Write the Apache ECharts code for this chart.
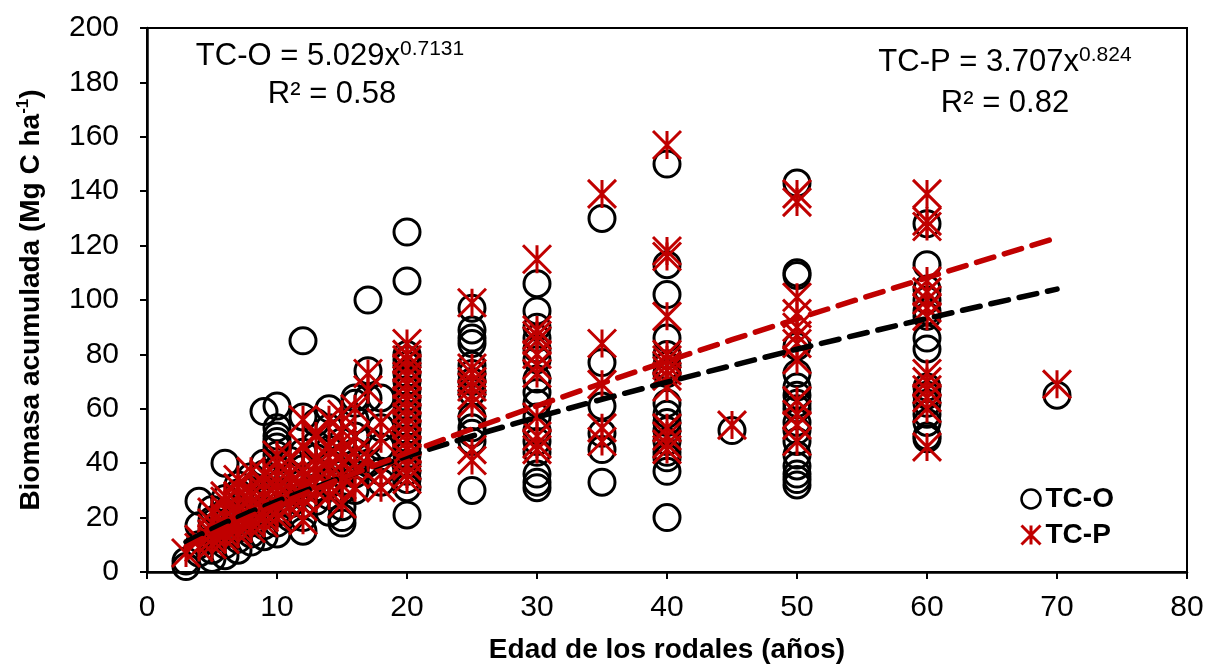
<!DOCTYPE html>
<html>
<head>
<meta charset="utf-8">
<script src="https://cdn.jsdelivr.net/npm/echarts@6/dist/echarts.min.js"></script>
<style>
html,body{margin:0;padding:0;background:#fff;}
#chart{width:1210px;height:669px;}
</style>
</head>
<body>
<div id="chart"></div>
<script>
// Stand ages (years) for which values were read
const ages = [3,4,5,6,7,8,9,10,11,12,13,14,15,16,17,18,20,25,30,35,40,45,50,60,70];

// TC-O biomass (Mg C ha-1), grouped by age (same order as ages)
const bioTCO = [
  [2, 4],
  [26, 17, 10, 7],
  [5, 8, 12, 15, 19, 23],
  [40, 6, 10, 14, 18, 22, 27],
  [8, 12, 16, 20, 24, 29, 32],
  [11, 14, 18, 22, 26, 30, 35],
  [59, 40, 13, 17, 21, 26, 30, 36],
  [61, 53, 50, 48, 46, 43, 14, 18, 22, 26, 30, 34, 38],
  [20, 25, 30, 35, 41],
  [85, 57, 15, 20, 25, 31, 38, 44],
  [55, 26, 31, 36, 42, 47],
  [60, 53, 22, 28, 33, 39, 45],
  [18, 20, 24, 30, 36, 42, 48],
  [64, 62, 30, 36, 44, 50, 56],
  [100, 74, 64, 40, 48],
  [64, 53, 46, 37, 33],
  [125, 107, 80, 78, 76, 73, 70, 67, 64, 61, 58, 55, 52, 49, 46, 43, 40, 37, 34, 31, 21],
  [97, 89, 86, 84, 76, 73, 70, 66, 57, 53, 51, 48, 30],
  [106, 96, 90, 86, 82, 78, 71, 66, 62, 57, 52, 48, 44, 36, 33, 31],
  [130, 77, 61, 51, 45, 33],
  [150, 113, 102, 86, 80, 76, 73, 62, 58, 55, 52, 48, 44, 42, 37, 20],
  [52],
  [143, 110, 109, 83, 73, 68, 65, 62, 60, 55, 52, 48, 43, 39, 36, 34, 32],
  [128, 113, 104, 100, 96, 94, 86, 82, 68, 65, 62, 58, 55, 50, 49],
  [65]
];

// TC-P biomass (Mg C ha-1), grouped by age (same order as ages)
const bioTCP = [
  [7],
  [12, 9],
  [10, 12, 14, 16, 18, 22],
  [12, 14, 16, 18, 20, 23, 26, 28],
  [14, 16, 18, 20, 22, 25, 28, 31, 34],
  [16, 18, 20, 23, 25, 28, 30, 37],
  [18, 20, 22, 25, 27, 30, 33, 36],
  [20, 22, 25, 28, 30, 33, 35, 40, 43],
  [24, 27, 30, 33, 36, 42],
  [56, 46, 37, 19, 24, 27, 30, 32, 35],
  [30, 33, 36, 39, 42, 50],
  [56, 46, 42, 38, 32, 28],
  [58, 52, 48, 44, 40, 35, 32, 25],
  [60, 50, 44, 40, 36, 31],
  [73, 67, 42],
  [55, 49, 36, 31],
  [84, 80, 78, 75, 72, 69, 66, 63, 60, 57, 54, 51, 48, 45, 42, 39, 36, 34],
  [99, 75, 73, 70, 68, 65, 62, 45, 41],
  [115, 89, 87, 85, 80, 76, 73, 57, 50, 47, 45],
  [139, 84, 69, 53, 48],
  [157, 118, 116, 94, 80, 78, 76, 74, 72, 68, 53, 50, 47, 45],
  [54],
  [139, 136, 101, 95, 90, 87, 84, 78, 63, 58, 54, 48],
  [139, 129, 127, 107, 103, 100, 97, 94, 73, 70, 67, 64, 60, 46],
  [69]
];

// Trend lines
const trendAges = [3, 4, 5, 6, 8, 10, 12, 15, 20, 25, 30, 35, 40, 45, 50, 55, 60, 65, 70];
const trendTCO  = [11.0, 13.5, 15.8, 18.1, 22.2, 26.0, 29.6, 34.7, 42.6, 50.0, 56.9, 63.5, 69.8, 75.9, 81.9, 87.6, 93.2, 98.7, 104.0];
const trendTCP  = [9.2, 11.7, 14.0, 16.3, 20.6, 24.7, 28.6, 34.5, 43.8, 52.6, 61.1, 69.4, 77.5, 85.4, 93.1, 100.7, 108.2, 115.6, 122.9];

const seriesNames = ['TC-O', 'TC-P'];
const eqTCO = ['TC-O = 5.029x', '0.7131', 'R² = 0.58'];
const eqTCP = ['TC-P = 3.707x', '0.824', 'R² = 0.82'];

function pairs(ageList, groups) {
  const out = [];
  groups.forEach((g, i) => g.forEach(v => out.push([ageList[i], v])));
  return out;
}
function linePairs(xs, ys) { return xs.map((x, i) => [x, ys[i]]); }

const FONT = 'Liberation Sans, Arial, sans-serif';
const RED = '#C00000';
const STAR = 'path://M0,0L20,20M20,0L0,20M10,0L10,20';

const chart = echarts.init(document.getElementById('chart'), null, {renderer: 'canvas'});
chart.setOption({
  animation: false,
  backgroundColor: '#fff',
  grid: {left: 147, right: 23, top: 28, bottom: 97, show: true, borderColor: '#000', borderWidth: 2, backgroundColor: 'transparent'},
  xAxis: {
    type: 'value', min: 0, max: 80, interval: 10,
    name: 'Edad de los rodales (años)', nameLocation: 'middle', nameGap: 64,
    nameTextStyle: {fontFamily: FONT, fontSize: 28, fontWeight: 'bold', color: '#000'},
    axisLine: {show: true, lineStyle: {color: '#000', width: 2.5}},
    axisTick: {show: true, length: 7, lineStyle: {color: '#000', width: 2}},
    axisLabel: {fontFamily: FONT, fontSize: 30, color: '#000', margin: 21},
    splitLine: {show: false}
  },
  yAxis: {
    type: 'value', min: 0, max: 200, interval: 20,
    name: '{b|Biomasa acumulada (Mg C ha}{s|-1}{b|)}', nameLocation: 'middle', nameGap: 100,
    nameTextStyle: {
      fontFamily: FONT, color: '#000',
      rich: {
        b: {fontFamily: FONT, fontSize: 28, fontWeight: 'bold', color: '#000', lineHeight: 32},
        s: {fontFamily: FONT, fontSize: 17, fontWeight: 'bold', color: '#000', verticalAlign: 'top', lineHeight: 20}
      }
    },
    axisLine: {show: true, lineStyle: {color: '#000', width: 2.5}},
    axisTick: {show: true, length: 7, lineStyle: {color: '#000', width: 2}},
    axisLabel: {fontFamily: FONT, fontSize: 30, color: '#000', margin: 28},
    splitLine: {show: false}
  },
  legend: {
    orient: 'vertical', left: 1020, top: 485, padding: 0, itemGap: 8,
    itemWidth: 19, itemHeight: 19,
    textStyle: {fontFamily: FONT, fontSize: 28, fontWeight: 'bold', color: '#000'},
    data: [
      {name: seriesNames[0], icon: 'circle', itemStyle: {color: 'rgba(0,0,0,0)', borderColor: '#000', borderWidth: 2.5}},
      {name: seriesNames[1], icon: STAR, itemStyle: {color: 'rgba(0,0,0,0)', borderColor: RED, borderWidth: 3}}
    ]
  },
  graphic: [
    {type: 'text', x: 330, y: 56, z: 100, style: {
      text: '{a|' + eqTCO[0] + '}{s|' + eqTCO[1] + '}', align: 'center', verticalAlign: 'middle',
      rich: {a: {fontFamily: FONT, fontSize: 31, fill: '#000', lineHeight: 34}, s: {fontFamily: FONT, fontSize: 21, fill: '#000', verticalAlign: 'top', lineHeight: 24}}
    }},
    {type: 'text', x: 332, y: 94, z: 100, style: {text: eqTCO[2], align: 'center', verticalAlign: 'middle', font: '31px ' + FONT, fill: '#000'}},
    {type: 'text', x: 1005, y: 62, z: 100, style: {
      text: '{a|' + eqTCP[0] + '}{s|' + eqTCP[1] + '}', align: 'center', verticalAlign: 'middle',
      rich: {a: {fontFamily: FONT, fontSize: 31, fill: '#000', lineHeight: 34}, s: {fontFamily: FONT, fontSize: 21, fill: '#000', verticalAlign: 'top', lineHeight: 24}}
    }},
    {type: 'text', x: 1005, y: 103, z: 100, style: {text: eqTCP[2], align: 'center', verticalAlign: 'middle', font: '31px ' + FONT, fill: '#000'}}
  ],
  series: [
    {
      name: seriesNames[0], type: 'scatter', data: pairs(ages, bioTCO),
      symbol: 'circle', symbolSize: 26, z: 2,
      itemStyle: {color: 'rgba(0,0,0,0)', borderColor: '#000', borderWidth: 3, opacity: 1},
      emphasis: {disabled: true}
    },
    {
      name: seriesNames[1], type: 'scatter', data: pairs(ages, bioTCP),
      symbol: STAR, symbolSize: 28, z: 3,
      itemStyle: {color: 'rgba(0,0,0,0)', borderColor: RED, borderWidth: 3, opacity: 1},
      emphasis: {disabled: true}
    },
    {
      name: 'trend TC-O', type: 'line', data: linePairs(trendAges, trendTCO), z: 5,
      showSymbol: false, smooth: false, silent: true,
      lineStyle: {color: '#000', width: 5.5, type: [18, 11], cap: 'round'}
    },
    {
      name: 'trend TC-P', type: 'line', data: linePairs(trendAges, trendTCP), z: 5,
      showSymbol: false, smooth: false, silent: true,
      lineStyle: {color: RED, width: 5.5, type: [18, 11], cap: 'round'}
    }
  ]
});
</script>
</body>
</html>
